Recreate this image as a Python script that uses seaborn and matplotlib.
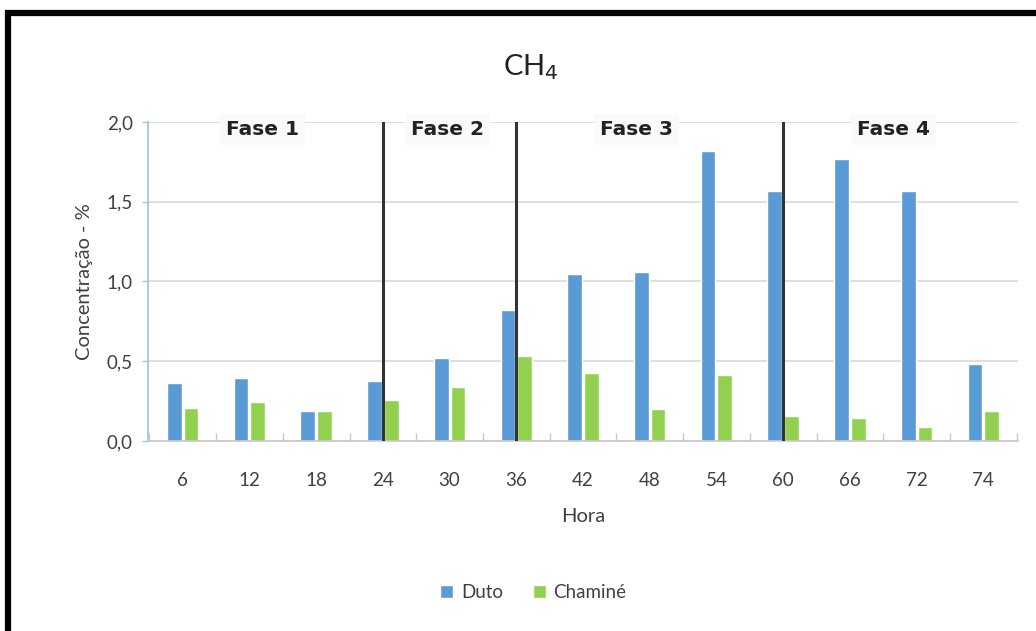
import numpy as np
import pandas as pd
import matplotlib
matplotlib.use("Agg")
import matplotlib.pyplot as plt
import seaborn as sns
from matplotlib.patches import Rectangle

horas = ["6", "12", "18", "24", "30", "36", "42", "48", "54", "60", "66", "72", "74"]
duto = [0.365, 0.395, 0.19, 0.375, 0.52, 0.82, 1.05, 1.06, 1.82, 1.565, 1.765, 1.565, 0.48]
chamine = [0.21, 0.245, 0.185, 0.26, 0.34, 0.53, 0.425, 0.2, 0.415, 0.155, 0.145, 0.09, 0.185]
series = ["Duto", "Chaminé"]
colors = ["#5B9BD5", "#92D050"]

# phase boundaries (category index) and label positions
fase_lines = [3, 5, 9]
fase_labels = ["Fase 1", "Fase 2", "Fase 3", "Fase 4"]
fase_x = [1.2, 3.97, 6.8, 10.65]

df = pd.DataFrame({
    "Hora": horas * 2,
    "valor": duto + chamine,
    "serie": [series[0]] * len(horas) + [series[1]] * len(horas),
})

sns.set_theme(style="white")
plt.rcParams["font.family"] = ["Lato", "DejaVu Sans"]

fig = plt.figure(figsize=(10.36, 6.31), dpi=100)
ax = fig.add_axes([0.1429, 0.3011, 0.8397, 0.5056])

sns.barplot(data=df, x="Hora", y="valor", hue="serie", palette=colors,
            order=horas, hue_order=series, width=0.5, gap=0.12,
            saturation=1, ax=ax, legend=True)

ax.set_ylim(0, 2.0)
ax.set_xlim(-0.52, 12.52)
ax.set_yticks([0, 0.5, 1.0, 1.5, 2.0])
ax.set_yticklabels(["0,0", "0,5", "1,0", "1,5", "2,0"], fontsize=13.5, color="#404040")
ax.tick_params(axis="x", labelsize=13.5, labelcolor="#404040", length=0, pad=22)
ax.tick_params(axis="y", length=4, color="#9DC3E6", width=1, pad=7, left=True)
ax.set_xticks(np.arange(-0.5, 13, 1), minor=True)
ax.tick_params(axis="x", which="minor", direction="in", length=6, color="#C8C8C8", bottom=True)

ax.yaxis.grid(True, color="#D9D9D9", linewidth=1.2)
ax.set_axisbelow(True)
for s in ["top", "right"]:
    ax.spines[s].set_visible(False)
ax.spines["left"].set_color("#9DC3E6")
ax.spines["bottom"].set_color("#C8C8C8")
ax.spines["bottom"].set_linewidth(1.2)

for xl in fase_lines:
    ax.axvline(xl, ymin=0, ymax=1, color="#333333", linewidth=2.2, zorder=3)

for lbl, xp in zip(fase_labels, fase_x):
    ax.text(xp, 1.95, lbl, ha="center", va="center", fontsize=14.5, fontweight="bold",
            family=["DejaVu Sans"], color="#222222",
            bbox=dict(boxstyle="square,pad=0.3", facecolor="#FAFAFA", edgecolor="none"))

ax.set_xlabel("Hora", fontsize=14.5, color="#404040", labelpad=14)
ax.set_ylabel("Concentração - %", fontsize=14.5, color="#404040", labelpad=10)
fig.text(0.512, 0.893, r"CH$_4$", ha="center", va="center", fontsize=21, color="#222222")

handles, labels = ax.get_legend_handles_labels()
ax.legend(handles, labels, loc="center", bbox_to_anchor=(0.443, -0.475), ncol=2,
          frameon=False, fontsize=13.5, handlelength=0.7, handleheight=0.7,
          handletextpad=0.4, columnspacing=1.6, labelcolor="#404040")

# outer frame of the original chart image
fig.add_artist(Rectangle((0.008, -0.1), 1.1, 1.079, transform=fig.transFigure,
                         fill=False, edgecolor="black", linewidth=4.5))

fig.savefig("out.png", dpi=100)
